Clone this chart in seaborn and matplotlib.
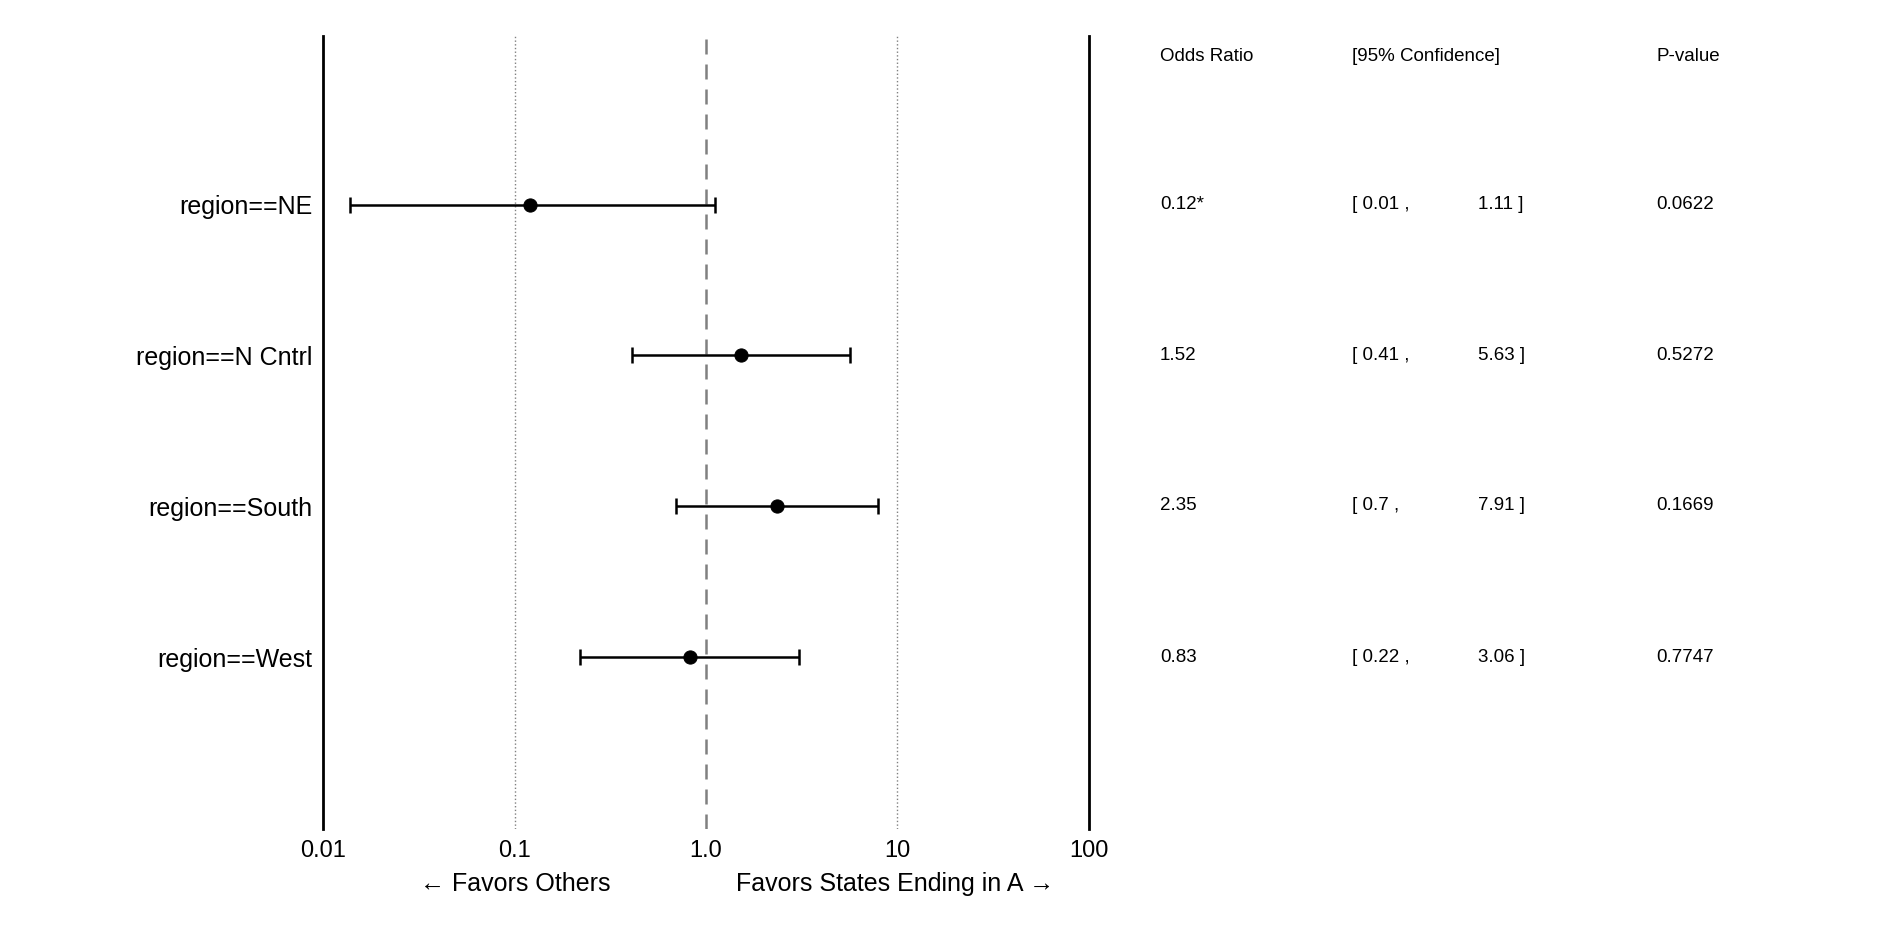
import numpy as np
import pandas as pd
import seaborn as sns
import matplotlib.pyplot as plt

labels = ['region==NE', 'region==N Cntrl', 'region==South', 'region==West']
odds = [0.12, 1.52, 2.35, 0.83]
lower = [0.0138, 0.41, 0.70, 0.22]
upper = [1.11, 5.63, 7.91, 3.06]
pvals = ['0.0622', '0.5272', '0.1669', '0.7747']
stars = ['*', '', '', '']

df = pd.DataFrame({'label': labels, 'odds': odds, 'lower': lower, 'upper': upper})
df['pos'] = range(len(df))

sns.set_style('white')
plt.rcParams['font.family'] = ['Liberation Sans', 'DejaVu Sans']
plt.rcParams['text.color'] = 'black'
plt.rcParams['xtick.color'] = 'black'
plt.rcParams['ytick.color'] = 'black'

fig = plt.figure(figsize=(18.8, 9.4), dpi=100)
ax = fig.add_axes([0.172, 0.118, 0.407, 0.844])

ax.errorbar(df['odds'], df['pos'],
            xerr=[df['odds'] - df['lower'], df['upper'] - df['odds']],
            fmt='none', ecolor='black', elinewidth=1.8, capsize=6, capthick=1.8, zorder=3)
sns.scatterplot(data=df, x='odds', y='pos', color='black', s=90, edgecolor='black', zorder=4, ax=ax)

ax.axvline(1, color='gray', linestyle=(0, (6, 4)), lw=1.8, zorder=1)
for v in [0.1, 10]:
    ax.axvline(v, color='gray', linestyle=':', lw=1, zorder=1)

ax.set_xscale('log')
ax.set_xlim(0.01, 100)
ax.set_ylim(4.14, -1.12)
ax.set_xticks([0.01, 0.1, 1, 10, 100])
ax.set_xticklabels(['0.01', '0.1', '1.0', '10', '100'], fontsize=17)
ax.minorticks_off()
ax.set_yticks(df['pos'])
ax.set_yticklabels(labels, fontsize=18)
ax.tick_params(length=0, pad=8)
ax.set_xlabel('')
ax.set_ylabel('')
for s in ['top', 'bottom']:
    ax.spines[s].set_visible(False)
for s in ['left', 'right']:
    ax.spines[s].set_color('black')
    ax.spines[s].set_linewidth(2)

fig.text(0.274, 0.06, '← Favors Others', ha='center', va='center', fontsize=18)
fig.text(0.476, 0.06, 'Favors States Ending in A →', ha='center', va='center', fontsize=18)

fs = 13.5
fig.text(0.617, 0.94, 'Odds Ratio', fontsize=fs, va='center')
fig.text(0.719, 0.94, '[95% Confidence]', fontsize=fs, va='center')
fig.text(0.881, 0.94, 'P-value', fontsize=fs, va='center')
rows_y = [0.782, 0.622, 0.462, 0.301]
for i, y in enumerate(rows_y):
    fig.text(0.617, y, f'{odds[i]:.2f}{stars[i]}', fontsize=fs, va='center')
    fig.text(0.719, y, f'[ {round(lower[i], 2):g} ,', fontsize=fs, va='center')
    fig.text(0.786, y, f'{upper[i]:.2f} ]', fontsize=fs, va='center')
    fig.text(0.881, y, pvals[i], fontsize=fs, va='center')

fig.savefig('out.png', dpi=100)
